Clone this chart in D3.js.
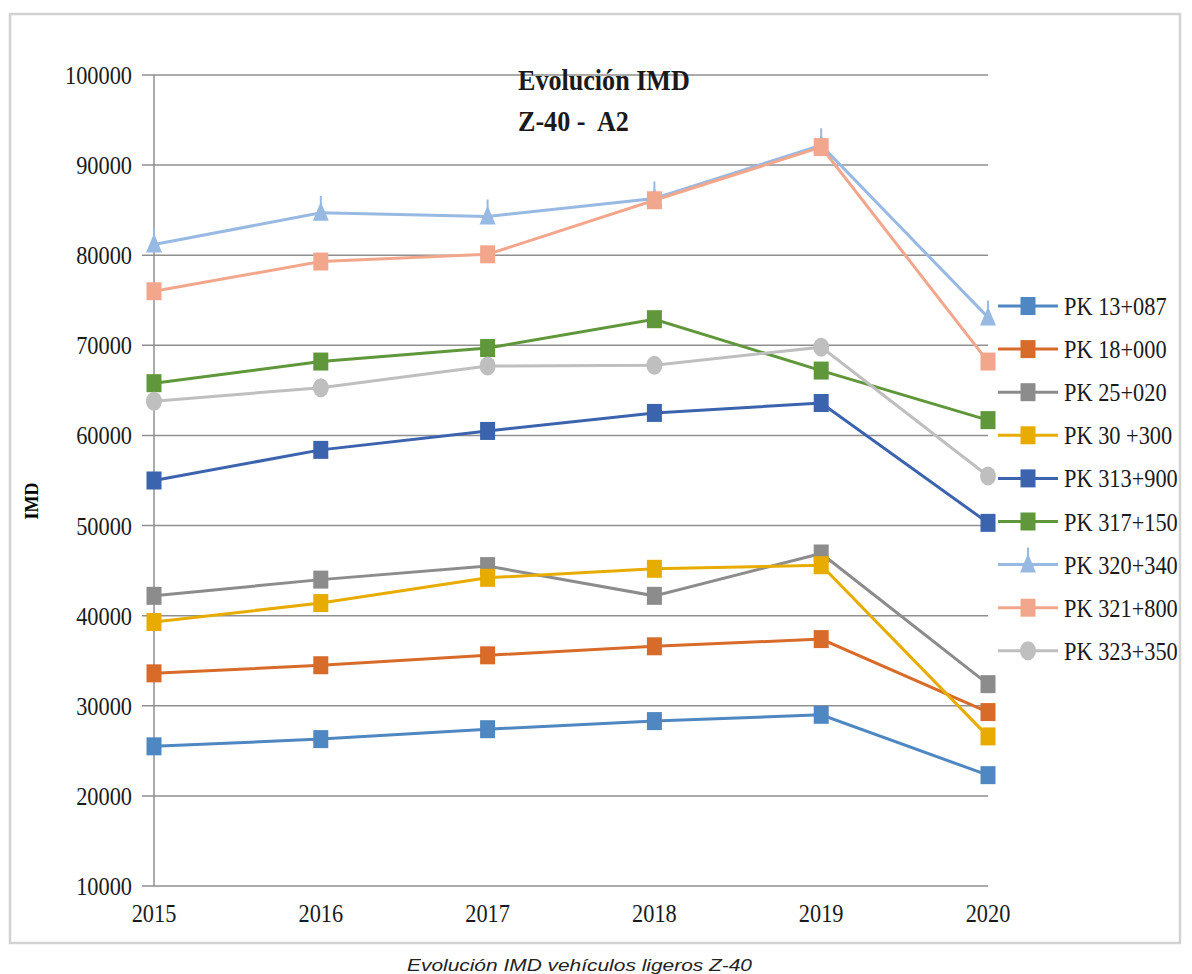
<!DOCTYPE html>
<html>
<head>
<meta charset="utf-8">
<script src="https://cdn.jsdelivr.net/npm/d3@7"></script>
<style>
  html, body { margin: 0; padding: 0; background: #ffffff; }
  svg { display: block; }
  text { white-space: pre; }
</style>
</head>
<body>
<svg id="chart" width="1192" height="974"></svg>
<script>
// ---- data ----
const years = [2015, 2016, 2017, 2018, 2019, 2020];
const yTicks = [10000, 20000, 30000, 40000, 50000, 60000, 70000, 80000, 90000, 100000];
const seriesNames = ["PK 13+087", "PK 18+000", "PK 25+020", "PK 30 +300", "PK 313+900",
                     "PK 317+150", "PK 320+340", "PK 321+800", "PK 323+350"];
const pk13_087  = [25500, 26300, 27400, 28300, 29000, 22300];
const pk18_000  = [33600, 34500, 35600, 36600, 37400, 29300];
const pk25_020  = [42200, 44000, 45500, 42200, 46900, 32400];
const pk30_300  = [39300, 41400, 44200, 45200, 45600, 26600];
const pk313_900 = [55000, 58400, 60500, 62500, 63600, 50300];
const pk317_150 = [65800, 68200, 69700, 72900, 67200, 61700];
const pk320_340 = [81200, 84700, 84300, 86300, 92200, 73100];
const pk321_800 = [76000, 79300, 80100, 86100, 92000, 68200];
const pk323_350 = [63800, 65300, 67700, 67800, 69800, 55500];
const seriesValues = [pk13_087, pk18_000, pk25_020, pk30_300, pk313_900,
                      pk317_150, pk320_340, pk321_800, pk323_350];
const seriesColors = ["#4e87c1", "#d86b2a", "#8c8c8c", "#e8ac00", "#3b63ae",
                      "#5f973a", "#98b9e2", "#f2a78c", "#bfbfbf"];
const seriesMarkers = ["square", "square", "square", "square", "square",
                       "square", "triangle", "square", "circle"];
const titleLines = ["Evolución IMD", "Z-40 -  A2"];
const yLabel = "IMD";
const caption = "Evolución IMD vehículos ligeros Z-40";

// ---- layout ----
const svg = d3.select("#chart");
const SERIF = "'Liberation Serif', 'Times New Roman', serif";
const SX = 0.86; // horizontal squash of the original rendering

const x = d3.scaleLinear().domain([2015, 2020]).range([154, 988]);
const y = d3.scaleLinear().domain([10000, 100000]).range([886, 75]);

// outer frame
svg.append("rect").attr("x", 10).attr("y", 14).attr("width", 1170).attr("height", 929)
  .attr("fill", "none").attr("stroke", "#d2d2d2").attr("stroke-width", 2.5);

function label(g, px, py, s, anchor, size, weight, sx) {
  return g.append("text")
    .attr("transform", `translate(${px},${py}) scale(${sx},1)`)
    .attr("text-anchor", anchor)
    .attr("font-family", SERIF)
    .attr("font-size", size)
    .attr("font-weight", weight)
    .attr("fill", "#1a1a1a")
    .text(s);
}

// gridlines
const grid = svg.append("g");
grid.selectAll("line").data(yTicks).join("line")
  .attr("x1", 142).attr("x2", x(2020))
  .attr("y1", d => y(d)).attr("y2", d => y(d))
  .attr("stroke", "#8f8f8f").attr("stroke-width", 1.5);

// y axis line
svg.append("line").attr("x1", x(2015)).attr("x2", x(2015))
  .attr("y1", y(100000)).attr("y2", y(10000))
  .attr("stroke", "#8f8f8f").attr("stroke-width", 1.5);

// y tick labels
const yl = svg.append("g");
yTicks.forEach(t => label(yl, 132, y(t) + 9, String(t), "end", 26, "normal", SX));

// x tick labels
const xl = svg.append("g");
years.forEach(yr => label(xl, x(yr), 922, String(yr), "middle", 26, "normal", SX));

// y axis title
svg.append("text")
  .attr("transform", "translate(38,501) rotate(-90)")
  .attr("text-anchor", "middle")
  .attr("font-family", SERIF).attr("font-size", 18).attr("font-weight", "bold")
  .attr("fill", "#000").text(yLabel);

// series
const lineGen = d3.line().x((d, i) => x(years[i])).y(d => y(d));

function marker(g, type, cx, cy, color) {
  if (type === "square") {
    g.append("rect").attr("x", cx - 7.5).attr("y", cy - 9).attr("width", 15).attr("height", 18)
      .attr("fill", color);
  } else if (type === "circle") {
    g.append("ellipse").attr("cx", cx).attr("cy", cy).attr("rx", 8).attr("ry", 9.5)
      .attr("fill", color);
  } else {
    g.append("path")
      .attr("d", `M${cx},${cy - 11} L${cx + 8},${cy + 8} L${cx - 8},${cy + 8} Z`)
      .attr("fill", color);
    g.append("line").attr("x1", cx).attr("x2", cx).attr("y1", cy - 17).attr("y2", cy - 8)
      .attr("stroke", color).attr("stroke-width", 2);
  }
}

const plot = svg.append("g");
seriesValues.forEach((vals, si) => {
  const g = plot.append("g");
  g.append("path").attr("d", lineGen(vals))
    .attr("fill", "none").attr("stroke", seriesColors[si]).attr("stroke-width", 3);
  vals.forEach((v, i) => marker(g, seriesMarkers[si], x(years[i]), y(v), seriesColors[si]));
});

// title
const tg = svg.append("g");
label(tg, 518, 90, titleLines[0], "start", 30, "bold", 0.87);
label(tg, 518, 131, titleLines[1], "start", 30, "bold", 0.87);

// legend
const lg = svg.append("g");
seriesNames.forEach((name, i) => {
  const cy = 306 + i * 43.1;
  lg.append("line").attr("x1", 998).attr("x2", 1058).attr("y1", cy).attr("y2", cy)
    .attr("stroke", seriesColors[i]).attr("stroke-width", 3);
  marker(lg, seriesMarkers[i], 1028, cy, seriesColors[i]);
  label(lg, 1064, cy + 9, name, "start", 26, "normal", SX);
});

// caption
svg.append("text")
  .attr("x", 407).attr("y", 971)
  .attr("font-family", "'Liberation Sans', Arial, sans-serif")
  .attr("font-size", 17).attr("font-style", "italic")
  .attr("fill", "#222")
  .attr("textLength", 345).attr("lengthAdjust", "spacingAndGlyphs")
  .text(caption);
</script>
</body>
</html>
